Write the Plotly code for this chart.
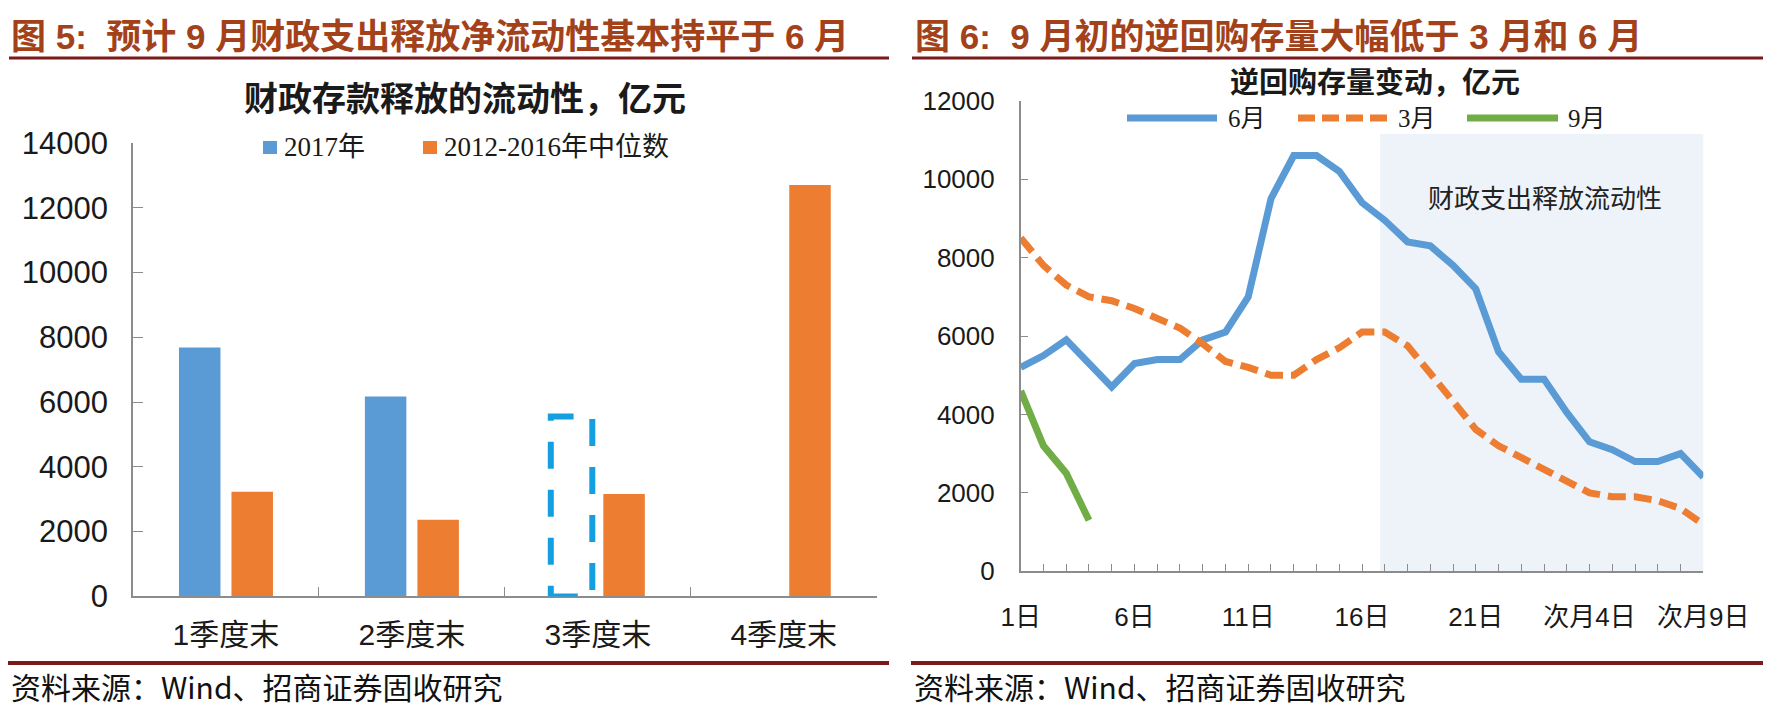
import plotly.graph_objects as go

W, H = 1780, 714

# ---------------- data: left chart (财政存款释放的流动性，亿元) ----------------
quarters = ["1季度末", "2季度末", "3季度末", "4季度末"]
release_2017 = [7680, 6170, None, None]
release_median = [3230, 2370, 3160, 12700]
q3_2017_estimate = 5550          # dashed "expected" box for Q3 2017
left_series_names = ["2017年", "2012-2016年中位数"]

# ---------------- data: right chart (逆回购存量变动，亿元) ----------------
day_index = list(range(31))
day_tick_index = [0, 5, 10, 15, 20, 25, 30]
day_tick_labels = ["1日", "6日", "11日", "16日", "21日", "次月4日", "次月9日"]
repo_jun = [5200, 5500, 5900, 5300, 4700, 5300, 5400, 5400, 5900, 6100, 7000,
            9500, 10600, 10600, 10200, 9400, 8950, 8400, 8300, 7800, 7200,
            5600, 4900, 4900, 4050, 3300, 3100, 2800, 2800, 3000, 2400]
repo_mar = [8500, 7800, 7300, 7000, 6900, 6700, 6450, 6200, 5800, 5350, 5200,
            5000, 5000, 5400, 5700, 6100, 6100, 5750, 5050, 4300, 3620,
            3200, 2900, 2600, 2300, 2000, 1900, 1900, 1800, 1600, 1200]
repo_sep = [4600, 3200, 2500, 1300]
right_series_names = ["6月", "3月", "9月"]
shade_start, shade_end, shade_top = 15.8, 30.15, 11150
shade_label = "财政支出释放流动性"

# ---------------- styling ----------------
BLUE, ORANGE, GREEN = "#5B9BD5", "#ED7D31", "#70AD47"
BOX_BLUE = "#14A0E0"
HEAD_COLOR = "#A3421A"
RULE_COLOR = "#7B1A1A"
AXIS_COLOR = "#8C8C8C"
SANS = "Liberation Sans, Noto Sans CJK SC"
SERIF = "Liberation Serif, Noto Sans CJK SC"
CJK = "Noto Sans CJK SC"

BARGAP, BARGROUPGAP = 0.435, 0.21


def px_x(v):
    return v / W


def px_y(v):
    return 1 - v / H


fig = go.Figure()

fig.add_trace(go.Bar(x=quarters, y=release_2017, name=left_series_names[0],
                     marker=dict(color=BLUE, line=dict(width=0)),
                     xaxis="x", yaxis="y", showlegend=False))
fig.add_trace(go.Bar(x=quarters, y=release_median, name=left_series_names[1],
                     marker=dict(color=ORANGE, line=dict(width=0)),
                     xaxis="x", yaxis="y", showlegend=False))

fig.add_trace(go.Scatter(x=day_index, y=repo_jun, mode="lines", name=right_series_names[0],
                         line=dict(color=BLUE, width=7), xaxis="x2", yaxis="y2",
                         showlegend=False))
fig.add_trace(go.Scatter(x=day_index, y=repo_mar, mode="lines", name=right_series_names[1],
                         line=dict(color=ORANGE, width=7, dash="18px,8px"),
                         xaxis="x2", yaxis="y2", showlegend=False))
fig.add_trace(go.Scatter(x=day_index[:len(repo_sep)], y=repo_sep, mode="lines",
                         name=right_series_names[2], line=dict(color=GREEN, width=7),
                         xaxis="x2", yaxis="y2", showlegend=False))

# dashed box where the Q3 2017 bar would be
slot = (1 - BARGAP) / 2
bar_w = slot * (1 - BARGROUPGAP)
q3_idx = quarters.index("3季度末")
blue_center = q3_idx - slot / 2
shapes = [
    dict(type="rect", xref="x", yref="y",
         x0=blue_center - bar_w / 2, x1=blue_center + bar_w / 2,
         y0=0, y1=q3_2017_estimate,
         line=dict(color=BOX_BLUE, width=6, dash="27px,21px"),
         fillcolor="rgba(0,0,0,0)", layer="above"),
    dict(type="rect", xref="x2", yref="y2", x0=shade_start, x1=shade_end,
         y0=0, y1=shade_top, fillcolor="#EEF3F9", line=dict(width=0), layer="below"),
]

# rules
for (x0, x1, y, w) in [(9, 889, 58, 3), (912, 1763, 58, 3), (8, 889, 663, 4), (911, 1763, 663, 4)]:
    shapes.append(dict(type="line", xref="paper", yref="paper",
                       x0=px_x(x0), x1=px_x(x1), y0=px_y(y), y1=px_y(y),
                       line=dict(color=RULE_COLOR, width=w)))

annotations = []

# legend for the bar chart (square swatches)
bar_leg = [(263, BLUE, 282, left_series_names[0]), (423, ORANGE, 442, left_series_names[1])]
for (sx, col, tx, label) in bar_leg:
    shapes.append(dict(type="rect", xref="paper", yref="paper",
                       x0=px_x(sx), x1=px_x(sx + 14), y0=px_y(154), y1=px_y(141),
                       fillcolor=col, line=dict(width=0)))
    annotations.append(dict(xref="paper", yref="paper", x=px_x(tx), y=px_y(147),
                            xanchor="left", yanchor="middle", text=label, showarrow=False,
                            font=dict(family=SERIF, size=27, color="#1a1a1a")))

# legend for the line chart
leg_items = [(1127, 1217, BLUE, "solid", 1226, right_series_names[0]),
             (1298, 1388, ORANGE, "17px,7px", 1396, right_series_names[1]),
             (1467, 1558, GREEN, "solid", 1566, right_series_names[2])]
for (x0, x1, col, dash, tx, label) in leg_items:
    shapes.append(dict(type="line", xref="paper", yref="paper",
                       x0=px_x(x0), x1=px_x(x1), y0=px_y(118), y1=px_y(118),
                       line=dict(color=col, width=7, dash=dash)))
    annotations.append(dict(xref="paper", yref="paper", x=px_x(tx), y=px_y(119),
                            xanchor="left", yanchor="middle", text=label, showarrow=False,
                            font=dict(family=SERIF, size=25, color="#1a1a1a")))

# headings, titles, sources
annotations += [
    dict(xref="paper", yref="paper", x=px_x(9), y=px_y(36), xanchor="left", yanchor="middle",
         text="<b>图 5:  预计 9 月财政支出释放净流动性基本持平于 6 月</b>", showarrow=False,
         font=dict(family=SANS, size=35, color=HEAD_COLOR)),
    dict(xref="paper", yref="paper", x=px_x(913), y=px_y(36), xanchor="left", yanchor="middle",
         text="<b>图 6:  9 月初的逆回购存量大幅低于 3 月和 6 月</b>", showarrow=False,
         font=dict(family=SANS, size=35, color=HEAD_COLOR)),
    dict(xref="paper", yref="paper", x=px_x(465), y=px_y(97), xanchor="center", yanchor="middle",
         text="<b>财政存款释放的流动性，亿元</b>", showarrow=False,
         font=dict(family=CJK, size=34, color="#1a1a1a")),
    dict(xref="paper", yref="paper", x=px_x(1375), y=px_y(80), xanchor="center", yanchor="middle",
         text="<b>逆回购存量变动，亿元</b>", showarrow=False,
         font=dict(family=CJK, size=29, color="#1a1a1a")),
    dict(xref="paper", yref="paper", x=px_x(9), y=px_y(686), xanchor="left", yanchor="middle",
         text="资料来源：Wind、招商证券固收研究", showarrow=False,
         font=dict(family=CJK, size=30, color="#111")),
    dict(xref="paper", yref="paper", x=px_x(912), y=px_y(686), xanchor="left", yanchor="middle",
         text="资料来源：Wind、招商证券固收研究", showarrow=False,
         font=dict(family=CJK, size=30, color="#111")),
    dict(xref="x2", yref="y2", x=(shade_start + shade_end) / 2 + 0.05, y=9550,
         xanchor="center", yanchor="middle", text=shade_label, showarrow=False,
         font=dict(family=CJK, size=26, color="#222")),
]

axis_common = dict(showline=True, linecolor=AXIS_COLOR, linewidth=1.5, showgrid=False,
                   zeroline=False, ticks="inside", tickcolor=AXIS_COLOR, tickwidth=1.2,
                   fixedrange=True, automargin=False)

fig.update_layout(
    width=W, height=H,
    margin=dict(l=0, r=0, t=0, b=0, pad=0, autoexpand=False),
    paper_bgcolor="white", plot_bgcolor="rgba(0,0,0,0)",
    barmode="group", bargap=BARGAP, bargroupgap=BARGROUPGAP,
    showlegend=False,
    xaxis=dict(**axis_common, domain=[px_x(133), px_x(876.7)], anchor="y",
               type="category", tickson="boundaries", ticklen=10,
               range=[-0.5, 3.5], ticklabelstandoff=11,
               tickfont=dict(family=SANS, size=30, color="#1a1a1a")),
    yaxis=dict(**axis_common, domain=[px_y(596.4), px_y(142.9)], anchor="x",
               range=[0, 14000], tickvals=list(range(0, 14001, 2000)), tickformat="d",
               ticklen=10, ticklabelstandoff=17,
               tickfont=dict(family=SANS, size=31, color="#1a1a1a")),
    xaxis2=dict(**axis_common, domain=[px_x(1020.7), px_x(1703.3)], anchor="y2",
                range=[0, 30], tickvals=day_index,
                ticktext=[day_tick_labels[day_tick_index.index(i)] if i in day_tick_index else ""
                          for i in day_index],
                ticklen=8, ticklabelstandoff=22,
                tickfont=dict(family=SANS, size=26, color="#1a1a1a")),
    yaxis2=dict(**axis_common, domain=[px_y(571.3), px_y(100.7)], anchor="x2",
                range=[0, 12000], tickvals=list(range(0, 12001, 2000)), tickformat="d",
                ticklen=8, ticklabelstandoff=19,
                tickfont=dict(family=SANS, size=26, color="#1a1a1a")),
    shapes=shapes,
    annotations=annotations,
)

fig.write_html("out.html", config={"displayModeBar": False},
               post_script="document.body.style.margin='0px';")
